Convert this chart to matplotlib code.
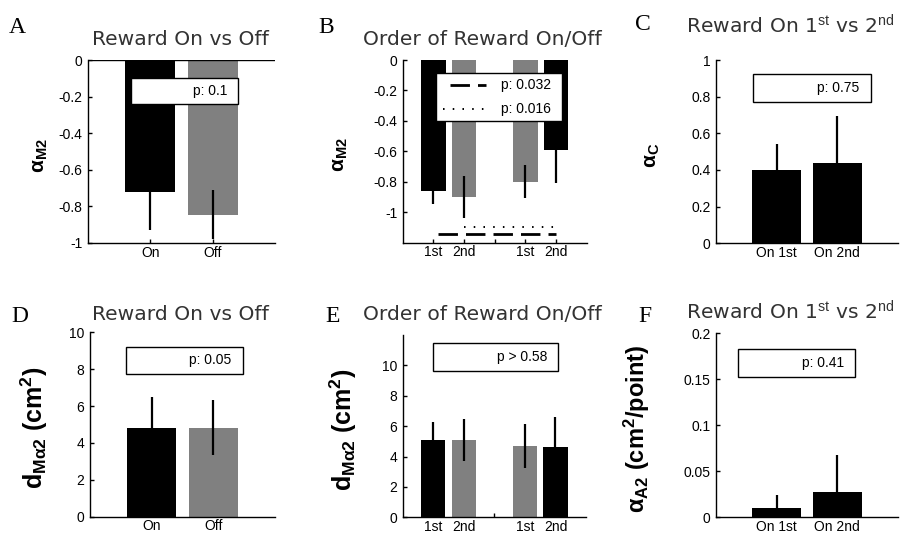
import numpy as np
import matplotlib
matplotlib.use('Agg')
import matplotlib.pyplot as plt
from matplotlib.patches import Rectangle
from matplotlib.lines import Line2D
from matplotlib.ticker import FuncFormatter

plt.rcParams['font.family'] = ['Liberation Sans', 'DejaVu Sans']
plt.rcParams['mathtext.fontset'] = 'custom'
plt.rcParams['mathtext.rm'] = 'Liberation Sans'
plt.rcParams['mathtext.it'] = 'Liberation Sans:italic'
plt.rcParams['mathtext.bf'] = 'Liberation Sans:bold'

W, H = 907, 534
BLACK, GRAY = '#000000', '#808080'
TICK_FONT = ['Liberation Sans Narrow', 'Liberation Sans']

# ---- values ----
onoff_labels = ['On', 'Off']
order_labels = ['1st', '2nd', '', '1st', '2nd']
first_second_labels = ['On 1st', 'On 2nd']
order_pos = [1, 2, 4, 5]

a_vals = [-0.72, -0.845]
a_err = [0.21, 0.135]

b_vals = [-0.86, -0.90, -0.80, -0.59]
b_err = [0.085, 0.14, 0.108, 0.215]
b_sig_p = ['p: 0.032', 'p: 0.016']
b_sig_y = [-1.145, -1.095]
b_sig_x = [(1, 5), (2, 5)]

c_vals = [0.40, 0.44]
c_err = [0.14, 0.255]

d_vals = [4.79, 4.82]
d_err = [1.68, 1.49]

e_vals = [5.1, 5.1, 4.72, 4.6]
e_err = [1.2, 1.4, 1.45, 1.97]

f_vals = [0.0105, 0.027]
f_err = [0.0135, 0.041]

pair_colors = [BLACK, GRAY]
order_colors = [BLACK, GRAY, GRAY, BLACK]


def px_axes(fig, left, top, right, bottom):
    return fig.add_axes([left / W, 1 - bottom / H, (right - left) / W, (bottom - top) / H])


def tick_fmt(v, _):
    return '0' if abs(v) < 1e-9 else f'{v:g}'


def style_axes(ax, xlim, ylim, yticks, xticks, xlabels):
    ax.set_xlim(*xlim)
    ax.set_ylim(*ylim)
    ax.set_yticks(yticks)
    ax.set_xticks(xticks)
    ax.set_xticklabels(xlabels)
    ax.yaxis.set_major_formatter(FuncFormatter(tick_fmt))
    for s in ('top', 'right'):
        ax.spines[s].set_visible(False)
    for s in ('left', 'bottom'):
        ax.spines[s].set_linewidth(1.0)
    ax.tick_params(direction='in', length=3, width=1, labelsize=10)
    ax.tick_params(axis='y', pad=4)
    ax.tick_params(axis='x', pad=2)
    for lab in ax.get_xticklabels() + ax.get_yticklabels():
        lab.set_family(TICK_FONT)


def ylabel(ax, txt, size, xr):
    ax.set_ylabel(txt, fontsize=size)
    ax.yaxis.set_label_coords(xr, 0.48)


def bars(ax, pos, vals, err, colors):
    ax.bar(pos, vals, width=0.8, color=colors, zorder=2)
    ax.errorbar(pos, vals, yerr=err, fmt='none', ecolor='black', elinewidth=1.6,
                capsize=0, zorder=3)


def pbox(fig, rect, lines):
    # white box with black edge, p-values right aligned; rect in pixels
    l, t, r, b = rect
    fig.patches.append(Rectangle((l / W, 1 - b / H), (r - l) / W, (b - t) / H,
                                 transform=fig.transFigure, facecolor='white',
                                 edgecolor='black', linewidth=1.0, zorder=5))
    n = len(lines)
    for i, (txt, ls) in enumerate(lines):
        yc = t + (b - t) * (i + 0.5) / n
        fig.text((r - 11) / W, 1 - yc / H, txt, ha='right', va='center',
                 fontsize=10, family=TICK_FONT, zorder=6)
        if ls is not None:
            x0, x1, style, lw = ls
            fig.lines.append(Line2D([x0 / W, x1 / W], [1 - yc / H, 1 - yc / H],
                                    transform=fig.transFigure, color='black',
                                    linestyle=style, linewidth=lw, zorder=6))


def title(fig, xc, yb, txt):
    fig.text(xc / W, 1 - yb / H, txt, ha='center', va='baseline', fontsize=14.6,
             color='#333333', family=['DejaVu Sans'])


def letter(fig, x, yb, txt):
    fig.text(x / W, 1 - yb / H, txt, ha='left', va='baseline', fontsize=17,
             family=['Liberation Serif', 'DejaVu Serif'])


fig = plt.figure(figsize=(W / 100, H / 100), dpi=100)

dash_style = (0, (7.0, 2.9))
dot_style = (0, (0.8, 4.2))

# A
ax = px_axes(fig, 88, 60, 275, 243)
bars(ax, [1, 2], a_vals, a_err, pair_colors)
ax.axhline(0, color='black', lw=1.0, zorder=4)
style_axes(ax, (0, 3), (-1, 0), np.arange(-1, 0.01, 0.2), [1, 2], onoff_labels)
ylabel(ax, r'$\mathbf{\alpha_{M2}}$', 15, -0.205)

# B
ax = px_axes(fig, 402.7, 60, 586.7, 242.7)
bars(ax, order_pos, b_vals, b_err, order_colors)
for (x0, x1), y, st, lw in zip(b_sig_x, b_sig_y, [dash_style, dot_style], [2.0, 1.4]):
    ax.plot([x0 + (0.15 if st is dash_style else 0), x1], [y, y], color='black',
            linestyle=st, linewidth=lw, zorder=3)
style_axes(ax, (0, 6), (-1.2, 0), np.arange(-1, 0.01, 0.2), [1, 2, 3, 4, 5], order_labels)
ylabel(ax, r'$\mathbf{\alpha_{M2}}$', 15, -0.286)

# C
ax = px_axes(fig, 716, 60, 898, 243.3)
bars(ax, [1, 2], c_vals, c_err, [BLACK, BLACK])
style_axes(ax, (0, 3), (0, 1), np.arange(0, 1.01, 0.2), [1, 2], first_second_labels)
ylabel(ax, r'$\mathbf{\alpha_C}$', 15, -0.297)

# D
ax = px_axes(fig, 90, 332.3, 275, 516.7)
bars(ax, [1, 2], d_vals, d_err, pair_colors)
style_axes(ax, (0, 3), (0, 10), np.arange(0, 10.1, 2), [1, 2], onoff_labels)
ylabel(ax, r'$\mathbf{d_{M\alpha2}\ (cm^2)}$', 18, -0.216)

# E
ax = px_axes(fig, 402.7, 335, 586, 517.3)
bars(ax, order_pos, e_vals, e_err, order_colors)
style_axes(ax, (0, 6), (0, 12), np.arange(0, 10.1, 2), [1, 2, 3, 4, 5], order_labels)
ylabel(ax, r'$\mathbf{d_{M\alpha2}\ (cm^2)}$', 18, -0.24)

# F
ax = px_axes(fig, 716, 333.3, 898, 517.3)
bars(ax, [1, 2], f_vals, f_err, [BLACK, BLACK])
style_axes(ax, (0, 3), (0, 0.2), np.arange(0, 0.201, 0.05), [1, 2], first_second_labels)
ylabel(ax, r'$\mathbf{\alpha_{A2}\ (cm^2/point)}$', 17, -0.353)

# p-value boxes
pbox(fig, (131, 77.7, 238, 104), [('p: 0.1', None)])
pbox(fig, (436, 72.7, 562, 120.7),
     [(b_sig_p[0], (450, 486, dash_style, 2.0)),
      (b_sig_p[1], (443, 490, dot_style, 1.4))])
pbox(fig, (752.7, 74, 870.7, 102.3), [('p: 0.75', None)])
pbox(fig, (126, 346.7, 242.7, 374), [('p: 0.05', None)])
pbox(fig, (432.7, 343.3, 558.3, 370.7), [('p > 0.58', None)])
pbox(fig, (738.3, 349.3, 855, 376.7), [('p: 0.41', None)])

# titles and panel letters
title(fig, 180, 45, 'Reward On vs Off')
title(fig, 482, 45, 'Order of Reward On/Off')
title(fig, 790, 33, r'Reward On 1$^{\mathrm{st}}$ vs 2$^{\mathrm{nd}}$')
title(fig, 180, 320, 'Reward On vs Off')
title(fig, 482, 320, 'Order of Reward On/Off')
title(fig, 790, 320, r'Reward On 1$^{\mathrm{st}}$ vs 2$^{\mathrm{nd}}$')

letter(fig, 9, 33, 'A')
letter(fig, 318, 33, 'B')
letter(fig, 635, 30, 'C')
letter(fig, 11, 322, 'D')
letter(fig, 325, 322, 'E')
letter(fig, 638, 322, 'F')

fig.savefig('out.png', dpi=100)
